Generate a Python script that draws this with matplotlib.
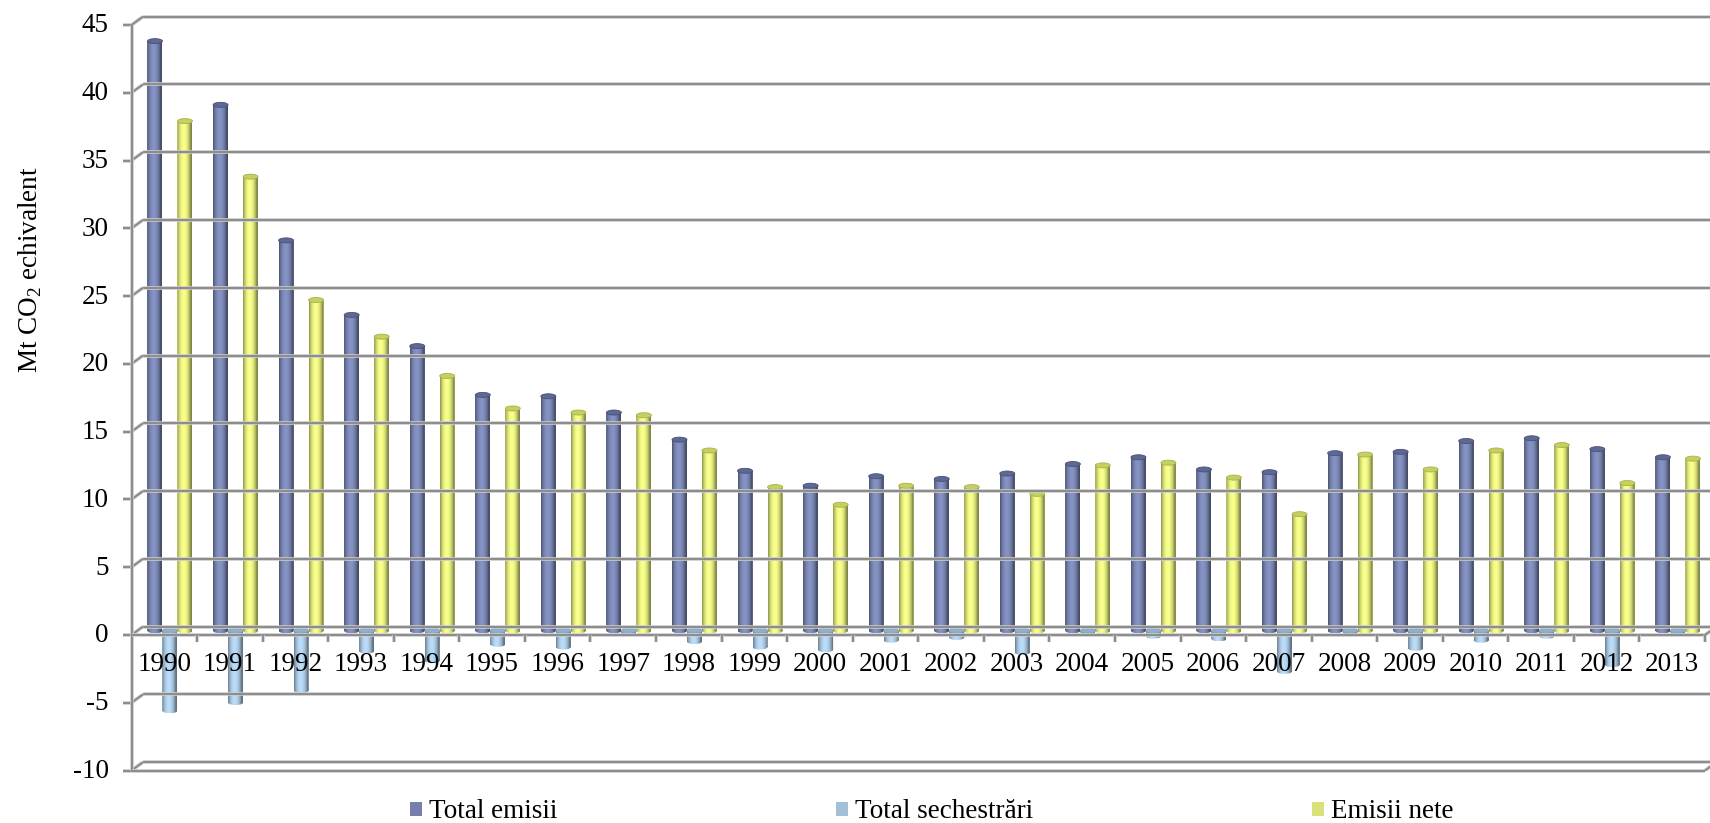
import numpy as np
import matplotlib
matplotlib.use("Agg")
import matplotlib.pyplot as plt
from matplotlib.transforms import ScaledTranslation, IdentityTransform, Affine2D
from matplotlib.patches import Ellipse, Patch
from matplotlib.lines import Line2D
from matplotlib.path import Path

# ---------------------------------------------------------------- data
years = [str(y) for y in range(1990, 2014)]
total_emisii = [43.5, 38.8, 28.8, 23.3, 21.0, 17.4, 17.3, 16.1, 14.1, 11.8, 10.7, 11.4,
                11.2, 11.6, 12.3, 12.8, 11.9, 11.7, 13.1, 13.2, 14.0, 14.2, 13.4, 12.8]
total_sechestrari = [-5.9, -5.3, -4.4, -1.5, -2.2, -1.0, -1.2, -0.2, -0.8, -1.2, -1.4, -0.7,
                     -0.5, -1.6, -0.1, -0.4, -0.6, -3.0, -0.1, -1.3, -0.7, -0.4, -2.5, -0.1]
emisii_nete = [37.6, 33.5, 24.4, 21.7, 18.8, 16.4, 16.1, 15.9, 13.3, 10.6, 9.3, 10.7,
               10.6, 10.1, 12.2, 12.4, 11.3, 8.6, 13.0, 11.9, 13.3, 13.7, 10.9, 12.7]
series_names = ["Total emisii", "Total sechestrări", "Emisii nete"]
yticks = list(range(-10, 50, 5))

# ---------------------------------------------------------------- style
plt.rcParams["font.family"] = ["Liberation Serif", "DejaVu Serif"]
plt.rcParams["mathtext.fontset"] = "custom"
plt.rcParams["mathtext.rm"] = "Liberation Serif"
FS = 19.5

W, H, DPI = 1710, 823, 100
fig = plt.figure(figsize=(W / DPI, H / DPI), dpi=DPI)

# front plane of the pseudo-3D box (pixels from top-left)
X_LEFT, X_RIGHT = 131.5, 1705.0
Y_TOP, Y_BOT = 25.0, 770.5
ax = fig.add_axes([X_LEFT / W, 1 - Y_BOT / H, (X_RIGHT - X_LEFT) / W, (Y_BOT - Y_TOP) / H])
ax.set_axis_off()
YMIN, YMAX = -10, 45
XMIN, XMAX = -0.5, len(years) - 0.5

# depth offsets (display pixels, y up)
BX, BY = 11.4, 8.3      # back wall
MX, MY = 5.7, 4.2       # plane through the columns

trans_mid = ax.transData + ScaledTranslation(MX / DPI, MY / DPI, fig.dpi_scale_trans)

colors = ["#7480ab", "#a3c0d9", "#d9e178"]
cap_colors = ["#5d6893", "#8fb0cc", "#c6cf62"]
edge_colors = ["#48517a", "#7c9db9", "#a9b14a"]

n = len(years)
x = np.arange(n)
cat_px = (X_RIGHT - X_LEFT) / n
bw = 15.0 / cat_px
ppu = (Y_BOT - Y_TOP) / (YMAX - YMIN)
capH = 5.0 / ppu

ax.set_xlim(XMIN, XMAX)
ax.set_ylim(YMIN, YMAX)


def shade(base, m=96):
    t = np.linspace(0, 1, m)
    f = 0.6 + 0.55 * np.sin(np.pi * np.clip(t * 1.1, 0, 1)) ** 0.7
    rgb = np.array(matplotlib.colors.to_rgb(base))
    g = np.clip(rgb[None, :] * f[:, None], 0, 1)
    return g[None, :, :]


handles = []
for k, (vals, off) in enumerate([(total_emisii, -bw), (total_sechestrari, 0.0), (emisii_nete, bw)]):
    bars = ax.bar(x + off, vals, width=bw, color=colors[k], linewidth=0,
                  transform=trans_mid, zorder=3)
    handles.append(Patch(facecolor=colors[k], edgecolor="none", label=series_names[k]))
    grad = shade(colors[k])
    for r in bars:
        x0, w = r.get_x(), r.get_width()
        y0, h = r.get_y(), r.get_height()
        lo, hi = min(y0, y0 + h), max(y0, y0 + h)
        body = Path.unit_rectangle().transformed(Affine2D().scale(w, hi - lo).translate(x0, lo))
        foot = Path.unit_circle().transformed(Affine2D().scale(w / 2, capH / 2).translate(x0 + w / 2, lo))
        clip = Path.make_compound_path(body, foot)
        im = ax.imshow(grad, extent=(x0, x0 + w, lo - capH / 2, hi), aspect="auto",
                       interpolation="bilinear", transform=trans_mid, zorder=3.1)
        im.set_clip_path(clip, trans_mid)
        ax.add_patch(Ellipse((x0 + w / 2, hi), w, capH, facecolor=cap_colors[k],
                             edgecolor=edge_colors[k], lw=0.6, transform=trans_mid, zorder=3.2))

ax.set_xlim(XMIN, XMAX)
ax.set_ylim(YMIN, YMAX)


def px(xv, yv, dx=0.0, dy=0.0):
    p = ax.transData.transform((xv, yv))
    return p[0] + dx, p[1] + dy


def gline(p0, p1, z=1):
    for c, lw in (("#cbcbcb", 3.6), ("#878787", 1.8)):
        fig.add_artist(Line2D([p0[0], p1[0]], [p0[1], p1[1]], transform=IdentityTransform(),
                              color=c, lw=lw * 72 / DPI, solid_capstyle="butt", zorder=z))


# back wall gridlines and their links to the front axis
for v in yticks:
    gline(px(XMIN, v, BX, BY), px(XMAX, v, BX + 20, BY))
    gline(px(XMIN, v), px(XMIN, v, BX, BY))
    gline(px(XMIN, v, -9, 0), px(XMIN, v))

# front axis and floor edges
gline(px(XMIN, YMIN), px(XMIN, YMAX))
gline(px(XMIN, 0), px(XMAX, 0))
gline(px(XMIN, YMIN), px(XMAX, YMIN))
gline(px(XMAX, YMIN), px(XMAX, YMIN, BX, BY))
gline(px(XMAX, 0), px(XMAX, 0, BX, BY))
for b in np.arange(0.5, n, 1.0):
    gline(px(b, 0), px(b, 0, 0, -7))

# tick labels
for v in yticks:
    ax.annotate(str(v), xy=(XMIN, v), xytext=(-23, -1), textcoords="offset pixels",
                ha="right", va="center", fontsize=FS, annotation_clip=False, zorder=5)
for i, yr in enumerate(years):
    ax.annotate(yr, xy=(i, 0), xytext=(0, -30), textcoords="offset pixels",
                ha="center", va="center", fontsize=FS, annotation_clip=False, zorder=5)

fig.text(30 / W, 1 - 270 / H, r"Mt CO$_\mathrm{2}$ echivalent", rotation=90,
         ha="center", va="center", fontsize=FS)

# legend entries
for h, xm in zip(handles, [410, 836, 1312]):
    fig.legend(handles=[h], loc="center left", bbox_to_anchor=(xm / W, 1 - 812 / H),
               frameon=False, fontsize=FS, handlelength=0.45, handleheight=0.45,
               handletextpad=0.25, borderpad=0, borderaxespad=0)

fig.savefig("out.png", dpi=DPI)
